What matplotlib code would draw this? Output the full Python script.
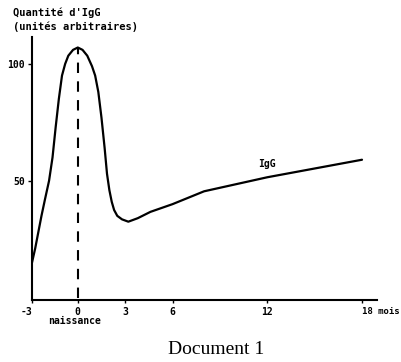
import matplotlib
matplotlib.use("Agg")
import matplotlib.pyplot as plt

months = [-2.9, -2.7, -2.5, -2.3, -2.08, -1.82, -1.6, -1.4, -1.2, -1.0, -0.8, -0.6, -0.3, 0,
          0.3, 0.6, 0.9, 1.1, 1.3, 1.5, 1.7, 1.85, 2.0, 2.15, 2.3, 2.5, 2.8, 3.2, 3.8, 4.6, 6, 8, 10, 12, 14, 16, 18]
igg = [15, 21, 28, 35, 42, 50, 60, 73, 85, 95, 100, 103.5, 106, 107,
       106, 103.5, 99, 95, 88, 77, 64, 53, 46, 41, 37.5, 35, 33.5, 32.5, 34, 36.7, 40, 45.5, 48.5, 51.5, 54, 56.5, 59]
xticks = [-3, 0, 3, 6, 12, 18]
xticklabels = ["-3", "0", "3", "6", "12", "18 mois"]
yticks = [50, 100]
yticklabels = ["50", "100"]

W, H = 401, 362
fig = plt.figure(figsize=(W / 100, H / 100), dpi=100)
ax = fig.add_axes([32 / W, (H - 300) / H, (377 - 32) / W, (300 - 37) / H])
ax.set_xlim(-2.9, 18.95)
ax.set_ylim(-1, 111.5)

mono = dict(family="DejaVu Sans Mono", fontweight="bold", fontsize=7)
title = dict(family="DejaVu Sans Mono", fontweight="bold", fontsize=7.5)

ax.plot(months, igg, color="black", lw=1.6, solid_capstyle="round", solid_joinstyle="round")
ax.plot([0, 0], [0, max(igg)], color="black", lw=1.5, dashes=(5, 4))

for s in ["top", "right"]:
    ax.spines[s].set_visible(False)
for s in ["left", "bottom"]:
    ax.spines[s].set_linewidth(1.5)
    ax.spines[s].set_color("black")

ax.set_xticks([t if t != -3 else -2.9 for t in xticks])
ax.set_xticklabels(xticklabels, **mono)
ax.set_yticks(yticks)
ax.set_yticklabels(yticklabels, **mono)
ax.tick_params(axis="x", length=2, width=1, pad=3)
ax.tick_params(axis="y", length=3, width=1, pad=2)
for lbl in ax.get_xticklabels():
    t = lbl.get_text()
    if "mois" in t:
        lbl.set_horizontalalignment("left")
        lbl.set_x(17.6)
        lbl.set_fontsize(6.5)
    elif t == "-3":
        lbl.set_horizontalalignment("right")
        lbl.set_x(-2.6)

ax.text(12, 55, "IgG", ha="center", va="bottom", **mono)
fig.text(13 / W, 1 - 13 / H, "Quantité d'IgG", ha="left", va="center", **title)
fig.text(13 / W, 1 - 27 / H, "(unités arbitraires)", ha="left", va="center", **title)
fig.text(75 / W, 1 - 321 / H, "naissance", ha="center", va="center", **mono)
fig.text(216 / W, 1 - 349 / H, "Document 1", ha="center", va="center",
         family="Liberation Serif", fontsize=14)

fig.savefig("out.png", dpi=100)
